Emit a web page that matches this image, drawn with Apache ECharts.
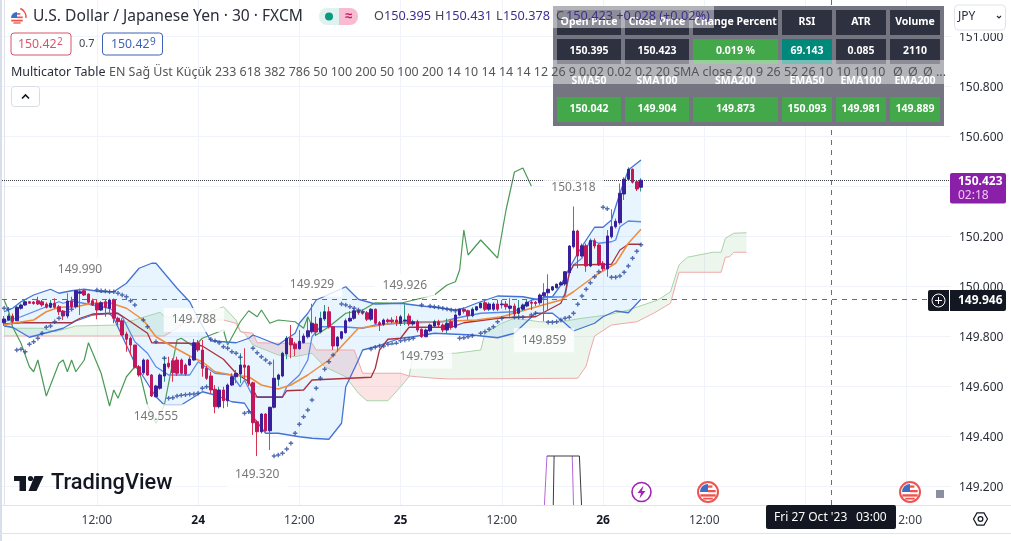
<!DOCTYPE html>
<html>
<head>
<meta charset="utf-8">
<script src="https://cdn.jsdelivr.net/npm/echarts@6/dist/echarts.min.js"></script>
<style>html,body{margin:0;padding:0;background:#fff}#c{width:1011px;height:541px}</style>
</head>
<body>
<div id="c"></div>
<script>
// [open, close, low, high]
const ohlc = [
[149.853,149.868,149.84,149.88],[149.864,149.880,149.86,149.89],[149.880,149.859,149.85,149.89],[149.861,149.915,149.86,149.92],
[149.911,149.924,149.905,149.93],[149.924,149.937,149.92,149.945],[149.937,149.931,149.93,149.94],[149.936,149.930,149.925,149.94],
[149.941,149.928,149.924,149.957],[149.937,149.924,149.917,149.944],[149.928,149.915,149.91,149.935],[149.915,149.931,149.911,149.944],
[149.931,149.915,149.91,149.951],[149.917,149.897,149.884,149.924],[149.900,149.880,149.864,149.904],[149.880,149.940,149.871,149.971],
[149.940,149.917,149.91,149.957],[149.917,149.981,149.91,149.984],[149.971,149.977,149.884,149.990],[149.981,149.964,149.96,149.985],
[149.968,149.935,149.93,149.97],[149.941,149.924,149.92,149.95],[149.931,149.904,149.867,149.944],[149.904,149.933,149.90,149.94],
[149.937,149.915,149.877,149.944],[149.911,149.944,149.884,149.95],[149.944,149.871,149.851,149.95],[149.871,149.857,149.844,149.877],
[149.861,149.804,149.80,149.871],[149.808,149.787,149.737,149.817],[149.791,149.764,149.724,149.797],[149.764,149.675,149.67,149.764],
[149.677,149.644,149.637,149.684],[149.653,149.704,149.645,149.71],[149.704,149.644,149.64,149.707],[149.644,149.560,149.556,149.648],
[149.557,149.600,149.555,149.605],[149.591,149.644,149.585,149.65],[149.640,149.688,149.617,149.715],[149.691,149.677,149.67,149.717],
[149.701,149.653,149.617,149.711],[149.704,149.651,149.64,149.717],[149.704,149.651,149.645,149.71],[149.684,149.648,149.64,149.69],
[149.684,149.707,149.68,149.717],[149.704,149.773,149.70,149.788],[149.773,149.744,149.737,149.784],[149.744,149.671,149.637,149.784],
[149.671,149.631,149.624,149.68],[149.640,149.584,149.571,149.657],[149.587,149.517,149.491,149.604],[149.517,149.584,149.51,149.597],
[149.584,149.541,149.511,149.597],[149.541,149.604,149.517,149.61],[149.604,149.637,149.60,149.651],[149.637,149.651,149.611,149.664],
[149.648,149.684,149.611,149.731],[149.684,149.675,149.631,149.751],[149.680,149.611,149.60,149.684],[149.613,149.453,149.404,149.617],
[149.457,149.417,149.320,149.464],[149.417,149.488,149.41,149.491],[149.488,149.421,149.417,149.491],[149.421,149.515,149.344,149.517],
[149.515,149.631,149.51,149.706],[149.627,149.644,149.60,149.65],[149.640,149.731,149.635,149.737],[149.728,149.791,149.707,149.80],
[149.791,149.764,149.711,149.844],[149.768,149.749,149.72,149.777],[149.749,149.779,149.745,149.824],[149.773,149.800,149.77,149.81],
[149.797,149.821,149.79,149.871],[149.817,149.851,149.81,149.929],[149.848,149.816,149.80,149.877],[149.816,149.871,149.81,149.897],
[149.868,149.897,149.86,149.924],[149.897,149.837,149.83,149.917],[149.837,149.760,149.744,149.84],[149.760,149.795,149.737,149.80],
[149.791,149.817,149.785,149.82],[149.813,149.861,149.81,149.87],[149.860,149.871,149.855,149.90],[149.871,149.901,149.865,149.91],
[149.901,149.893,149.885,149.905],[149.897,149.891,149.885,149.90],[149.893,149.867,149.86,149.90],[149.867,149.907,149.86,149.911],
[149.907,149.851,149.845,149.91],[149.853,149.844,149.82,149.86],[149.847,149.864,149.84,149.87],[149.864,149.857,149.85,149.87],
[149.864,149.857,149.85,149.875],[149.864,149.855,149.84,149.88],[149.851,149.877,149.84,149.885],[149.860,149.864,149.844,149.926],
[149.880,149.848,149.84,149.89],[149.848,149.857,149.84,149.865],[149.857,149.824,149.815,149.865],[149.827,149.797,149.793,149.83],
[149.797,149.824,149.795,149.83],[149.821,149.844,149.815,149.85],[149.840,149.857,149.835,149.865],[149.857,149.844,149.835,149.865],
[149.844,149.824,149.815,149.85],[149.824,149.851,149.81,149.87],[149.857,149.835,149.825,149.865],[149.835,149.884,149.83,149.89],
[149.884,149.907,149.88,149.91],[149.907,149.899,149.89,149.915],[149.901,149.881,149.865,149.905],[149.881,149.907,149.875,149.915],
[149.904,149.917,149.90,149.92],[149.913,149.931,149.91,149.935],[149.933,149.907,149.90,149.94],[149.907,149.928,149.90,149.935],
[149.907,149.928,149.90,149.935],[149.928,149.907,149.90,149.945],[149.925,149.928,149.91,149.944],[149.928,149.917,149.905,149.94],
[149.911,149.920,149.877,149.951],[149.920,149.888,149.88,149.93],[149.891,149.911,149.885,149.944],[149.907,149.924,149.90,149.93],
[149.920,149.935,149.915,149.945],[149.935,149.931,149.904,149.945],[149.935,149.930,149.92,149.94],[149.933,149.964,149.925,149.97],
[149.961,149.973,149.859,150.011],[149.973,149.987,149.904,150.047],[149.984,149.997,149.98,150.0],[149.993,150.007,149.99,150.01],
[150.004,150.013,150.0,150.02],[150.008,150.057,150.0,150.06],[150.053,150.160,150.05,150.164],[150.157,150.220,150.15,150.318],
[150.220,150.120,150.071,150.225],[150.120,150.161,150.115,150.17],[150.161,150.080,150.057,150.17],[150.080,150.181,150.075,150.19],
[150.181,150.160,150.15,150.19],[150.164,150.084,150.08,150.17],[150.091,150.069,150.06,150.10],[150.069,150.200,150.037,150.224],
[150.197,150.237,150.19,150.307],[150.237,150.259,150.23,150.27],[150.253,150.371,150.245,150.41],[150.368,150.427,150.344,150.435],
[150.427,150.467,150.42,150.475],[150.467,150.415,150.41,150.47],[150.417,150.388,150.38,150.42],[150.395,150.423,150.378,150.431]
];
const bbUpper = [[0,149.897],[2,149.911],[4,149.937],[7,149.964],[11,149.987],[13,149.971],[16,149.981],[19,149.987],[23,149.977],[26,149.977],[29,150.011],[32,150.071],[35,150.091],[36,150.091],[38,150.051],[41,149.991],[44,149.937],[46,149.871],[49,149.781],[52,149.777],[55,149.773],[58,149.791],[59,149.804],[61,149.791],[65,149.764],[66,149.777],[69,149.811],[70,149.851],[72,149.891],[74,149.944],[81,149.997],[84,149.947],[88,149.928],[94,149.931],[99,149.920],[102,149.915],[107,149.904],[109,149.911],[112,149.931],[117,149.960],[123,149.957],[127,149.944],[128,149.957],[130,149.957],[132,150.004],[134,150.071],[136,150.131],[138,150.184],[140,150.235],[142,150.235],[144,150.264],[146,150.371],[148,150.464],[151,150.504]];
const bbMiddle = [[0,149.857],[4,149.877],[7,149.897],[10,149.917],[13,149.937],[14,149.931],[16,149.941],[17,149.937],[21,149.924],[25,149.911],[28,149.877],[31,149.777],[34,149.731],[36,149.677],[39,149.644],[44,149.644],[46,149.697],[50,149.651],[54,149.644],[56,149.597],[57,149.624],[59,149.557],[66,149.557],[67,149.597],[70,149.644],[72,149.704],[73,149.797],[75,149.837],[80,149.837],[85,149.831],[88,149.844],[94,149.851],[104,149.857],[107,149.871],[113,149.891],[121,149.897],[125,149.944],[129,149.955],[133,149.957],[134,150.051],[135,150.084],[137,150.111],[139,150.184],[141,150.171],[144,150.177],[145,150.184],[146,150.237],[148,150.260],[151,150.257]];
const bbLower = [[0,149.840],[2,149.835],[6,149.795],[11,149.817],[14,149.831],[17,149.860],[21,149.884],[25,149.891],[26,149.871],[31,149.691],[33,149.637],[36,149.557],[38,149.524],[42,149.524],[47,149.577],[50,149.564],[54,149.537],[57,149.531],[59,149.477],[62,149.411],[65,149.411],[70,149.397],[73,149.391],[77,149.387],[80,149.451],[81,149.597],[84,149.704],[85,149.744],[88,149.757],[94,149.791],[97,149.797],[102,149.811],[111,149.804],[117,149.793],[121,149.811],[126,149.891],[130,149.891],[133,149.851],[135,149.820],[140,149.851],[142,149.877],[145,149.900],[148,149.893],[151,149.947]];
const emaLine = [[0,149.844],[2,149.851],[7,149.864],[10,149.897],[13,149.915],[17,149.917],[21,149.931],[25,149.933],[29,149.911],[33,149.864],[36,149.797],[40,149.757],[45,149.711],[47,149.697],[50,149.657],[54,149.644],[58,149.637],[61,149.604],[65,149.588],[68,149.604],[72,149.644],[77,149.704],[81,149.777],[84,149.831],[88,149.840],[94,149.857],[102,149.857],[112,149.864],[118,149.877],[125,149.911],[132,149.944],[135,149.977],[140,150.040],[145,150.091],[148,150.171],[151,150.227]];
const kijunLine = [[0,149.848],[4,149.853],[16,149.853],[18,149.871],[21,149.888],[27,149.891],[30,149.857],[34,149.811],[35,149.773],[44,149.771],[47,149.760],[52,149.707],[55,149.651],[58,149.617],[60,149.555],[66,149.555],[67,149.581],[71,149.584],[73,149.624],[87,149.635],[88,149.671],[89,149.744],[91,149.787],[94,149.791],[96,149.835],[106,149.835],[109,149.853],[118,149.873],[126,149.877],[132,149.931],[133,149.971],[134,150.051],[135,150.084],[144,150.087],[146,150.144],[148,150.167],[151,150.167]];
const chikouLine = [[0,149.944],[1,149.904],[2,149.837],[4,149.771],[6,149.677],[7,149.657],[8,149.704],[10,149.560],[13,149.691],[14,149.704],[15,149.657],[16,149.704],[17,149.657],[19,149.704],[20,149.773],[23,149.651],[25,149.520],[26,149.584],[27,149.551],[29,149.637],[31,149.677],[32,149.664],[34,149.524],[36,149.451],[38,149.524],[39,149.611],[41,149.784],[42,149.791],[45,149.757],[47,149.791],[52,149.824],[53,149.764],[56,149.857],[58,149.901],[60,149.877],[61,149.904],[63,149.851],[65,149.864],[69,149.857],[71,149.831],[72,149.877],[74,149.804],[77,149.837],[81,149.891],[85,149.904],[88,149.933],[94,149.931],[102,149.964],[105,150.004],[107,150.017],[108,150.064],[109,150.224],[110,150.124],[113,150.184],[117,150.112],[119,150.304],[121,150.456],[123,150.472],[125,150.400]];
const senkouA = [[0,149.844],[2,149.831],[9,149.831],[12,149.817],[17,149.840],[27,149.844],[33,149.875],[37,149.895],[38,149.877],[45,149.87],[52,149.917],[55,149.864],[56,149.82],[57,149.811],[59,149.764],[65,149.724],[69,149.717],[73,149.731],[76,149.677],[81,149.637],[84,149.571],[86,149.541],[91,149.541],[94,149.597],[96,149.637],[97,149.731],[107,149.731],[113,149.744],[114,149.811],[118,149.851],[121,149.871],[127,149.857],[132,149.857],[137,149.871],[143,149.884],[148,149.904],[155,149.944],[158,149.977],[160,150.084],[162,150.115],[168,150.135],[170,150.135],[171,150.191],[173,150.211],[176,150.213]];
const senkouB = [[0,149.800],[38,149.800],[44,149.864],[52,149.864],[55,149.851],[56,149.817],[59,149.811],[60,149.773],[66,149.771],[73,149.771],[74,149.744],[83,149.744],[85,149.651],[94,149.651],[96,149.640],[102,149.631],[106,149.628],[136,149.631],[138,149.680],[139,149.744],[140,149.80],[144,149.844],[150,149.857],[154,149.891],[158,149.931],[160,150.055],[170,150.055],[171,150.115],[172,150.117],[173,150.135],[176,150.135]];
const sarPoints = [[0,149.911],[1,149.907],[3,149.744],[4,149.747],[5,149.737],[6,149.767],[7,149.777],[8,149.791],[9,149.811],[10,149.835],[11,149.840],[12,149.857],[13,149.871],[14,149.888],[15,149.897],[16,149.907],[22,149.984],[23,149.981],[24,149.980],[25,149.977],[26,149.977],[27,149.971],[28,149.964],[29,149.957],[30,149.941],[31,149.924],[33,149.864],[34,149.837],[36,149.777],[38,149.711],[39,149.551],[40,149.553],[41,149.560],[42,149.563],[43,149.565],[44,149.567],[45,149.568],[46,149.571],[47,149.591],[48,149.597],[49,149.787],[50,149.781],[51,149.773],[52,149.757],[53,149.751],[54,149.737],[55,149.731],[56,149.715],[57,149.491],[58,149.497],[59,149.751],[60,149.733],[61,149.717],[62,149.704],[63,149.691],[64,149.320],[65,149.324],[66,149.331],[67,149.348],[68,149.371],[69,149.411],[70,149.447],[71,149.477],[72,149.504],[73,149.544],[74,149.591],[75,149.631],[76,149.667],[77,149.697],[78,149.724],[80,149.928],[81,149.924],[82,149.917],[83,149.911],[84,149.904],[85,149.897],[87,149.748],[88,149.755],[89,149.760],[90,149.760],[91,149.767],[92,149.768],[93,149.771],[94,149.781],[95,149.784],[96,149.787],[97,149.791],[99,149.924],[101,149.920],[102,149.917],[103,149.915],[104,149.911],[105,149.908],[106,149.904],[107,149.901],[108,149.791],[109,149.793],[110,149.797],[111,149.801],[113,149.811],[114,149.817],[115,149.827],[116,149.837],[117,149.857],[118,149.871],[121,149.875],[122,149.875],[123,149.875],[125,149.884],[126,149.891],[129,149.855],[130,149.855],[131,149.857],[132,149.864],[133,149.871],[134,149.875],[135,149.891],[136,149.927],[137,149.960],[138,149.987],[139,150.013],[140,150.037],[141,150.057],[142,150.315],[143,150.309],[144,150.035],[145,150.035],[146,150.040],[147,150.055],[148,150.080],[149,150.111],[150,150.139],[151,150.165]];
const pivotHighs = [[18,149.990],[45,149.788],[73,149.929],[95,149.926],[135,150.318]];
const pivotLows = [[36,149.555],[60,149.320],[99,149.793],[128,149.859]];
const boxPurple = [[[128.1,149.124],[128.7,149.320]],[[134.7,149.320],[135.0,149.124]]];
const boxDark = [[[128.7,149.320],[136.4,149.320],[136.9,149.124]],[[130.4,149.320],[130.2,149.124]]];
const priceTicks = [149.2,149.4,149.6,149.8,150.0,150.2,150.4,150.6,150.8,151.0];
const tickIndex = [22,46,70,94,118,142,166,190,214];
const tickLabels = ['12:00','24','12:00','25','12:00','26','12:00','27','12:00'];
const lastPrice = 150.423, crossPrice = 149.946, crossIndex = 196;
const tableHead1 = ['Open Price','Close Price','Change Percent','RSI','ATR','Volume'];
const tableVal1 = ['150.395','150.423','0.019 %','69.143','0.085','2110'];
const tableHead2 = ['SMA50','SMA100','SMA200','EMA50','EMA100','EMA200'];
const tableVal2 = ['150.042','149.904','149.873','150.093','149.981','149.889'];

const barCount = 225;
const categories = [];
for (let i = 0; i < barCount; i++) {
  const m = 60 + i * 30, d = 23 + Math.floor(m / 1440), mm = m % 1440;
  categories.push(d + ' ' + String(Math.floor(mm / 60)).padStart(2, '0') + ':' + String(mm % 60).padStart(2, '0'));
}
const F = '"Noto Sans", sans-serif';
const wicks = ohlc;
const bodies = ohlc.map(b => [b[0], b[1], Math.min(b[0], b[1]), Math.max(b[0], b[1])]);

function line(name, data, color, width, z, xi) {
  return {name, type: 'line', data, xAxisIndex: xi || 0, showSymbol: false, symbol: 'none', silent: true,
    lineStyle: {color, width: width || 1}, z: z || 3, animation: false};
}
function poly(name, hi, lo, from, to, fill) {
  const a = hi.filter(p => p[0] >= from && p[0] <= to);
  const b = lo.filter(p => p[0] >= from && p[0] <= to).reverse();
  const pts = a.concat(b);
  return {name, type: 'custom', data: [[0, 150]], z: 1, silent: true, animation: false,
    renderItem: (params, api) => ({type: 'polygon', shape: {points: pts.map(p => api.coord(p))}, style: {fill}})};
}
function pivot(name, data, pos) {
  return {name, type: 'scatter', data, symbolSize: 0, silent: true, z: 6, animation: false,
    label: {show: true, position: pos, distance: 7, formatter: p => p.value[1].toFixed(3), color: '#555', fontFamily: F, fontSize: 12,
      backgroundColor: '#fff', padding: [6, 8]}};
}

// overlays
const g = [];
const Z = 100;
const rect = (x, y, w, h, fill, extra) => g.push(Object.assign({type: 'rect', shape: {x, y, width: w, height: h, r: (extra && extra.r) || 0}, style: Object.assign({fill}, (extra && extra.style) || {}), z: (extra && extra.z) || Z, silent: true}));
const text = (x, y, t, fill, size, o) => g.push({type: 'text', z: (o && o.z) || Z + 3, silent: true, style: {x, y, text: t, fill, font: ((o && o.weight) || 'normal') + ' ' + size + 'px ' + ((o && o.family) || F), align: (o && o.align) || 'left', verticalAlign: 'middle'}});
const circle = (cx, cy, r, fill, stroke, lw) => g.push({type: 'circle', z: Z, silent: true, shape: {cx, cy, r}, style: {fill: fill || 'none', stroke: stroke || 'none', lineWidth: lw || 1}});
const polygon = (points, fill) => g.push({type: 'polygon', z: Z, silent: true, shape: {points}, style: {fill}});

function flag(cx, cy, r, ring) {
  if (ring) { circle(cx, cy, r, '#fff', '#ef5350', 2); }
  const q = ring ? r - 2 : r;
  circle(cx, cy, q, '#fff');
  g.push({type: 'sector', z: Z, silent: true, shape: {cx, cy, r: q, r0: 0, startAngle: Math.PI, endAngle: Math.PI * 1.5}, style: {fill: '#3f6fc4'}});
  rect(cx, cy - q * 0.82, q * 0.55, q * 0.28, '#ef5350');
  rect(cx, cy - q * 0.25, q * 0.96, q * 0.28, '#ef5350');
  rect(cx - q * 0.96, cy + q * 0.28, q * 1.92, q * 0.3, '#ef5350');
  rect(cx - q * 0.6, cy + q * 0.72, q * 1.2, q * 0.22, '#ef5350');
}
rect(0, 0, 2, 541, '#d9deeb');
// panels
rect(951, 506, 60, 27, '#fff');
rect(951.5, 0, 59.5, 33, '#fff');
// header
flag(17, 18, 6, false);
g.push({type: 'arc', z: Z, silent: true, shape: {cx: 17, cy: 17, r: 9, startAngle: -1.2, endAngle: 0.1}, style: {stroke: '#ef5350', lineWidth: 1.6, fill: 'none'}});
text(33, 16.5, 'U.S. Dollar / Japanese Yen · 30 · FXCM', '#2a2e39', 15.6);
rect(319, 8, 22, 17, '#e0f2ef', {r: [8, 0, 0, 8]});
circle(329, 16.5, 4, '#089981');
rect(339, 8, 19, 17, '#f8bbd0', {r: [0, 8, 8, 0]});
text(348.5, 16.5, '≈', '#c2185b', 13, {align: 'center', weight: 'bold'});
const ohlcCol = '#3f2e8f', lab = '#434651';
[[374, 'O', '150.395'], [435, 'H', '150.431'], [496, 'L', '150.378'], [556, 'C', '150.423 +0.028 (+0.02%)']].forEach(a => {
  text(a[0], 16.5, a[1], lab, 12.7);
  text(a[0] + (a[1] === 'H' ? 10 : a[1] === 'L' ? 7 : 10), 16.5, a[2], ohlcCol, 12.7);
});
// bid/ask
g.push({type: 'rect', z: Z, silent: true, shape: {x: 11, y: 33, width: 60, height: 22, r: 3}, style: {fill: '#fff', stroke: '#d9546a', lineWidth: 1}});
text(18, 44.5, '150.42', '#d9546a', 12.3);
text(57, 42, '2', '#d9546a', 10);
text(79, 44, '0.7', '#434651', 11);
g.push({type: 'rect', z: Z, silent: true, shape: {x: 102.5, y: 33, width: 60, height: 22, r: 3}, style: {fill: '#fff', stroke: '#3f62b5', lineWidth: 1}});
text(111, 44.5, '150.42', '#3f62b5', 12.3);
text(150, 42, '9', '#3f62b5', 10);
// legend row
text(11, 72, 'Multicator Table', '#2a2e39', 12.5);
text(109, 72, 'EN Sağ Üst Küçük 233 618 382 786 50 100 200 50 100 200 14 10 14 14 14 12 26 9 0.02 0.02 0.2 20 SMA close 2 0 9 26 52 26 10 10 10 10', '#555', 12.45);
[[898, 'Ø'], [913, 'Ø'], [928, 'Ø'], [941, '...']].forEach(a => text(a[0], 72, a[1], '#555', 12.5, {align: 'center'}));
g.push({type: 'rect', z: Z, silent: true, shape: {x: 11.5, y: 86.5, width: 28, height: 20, r: 3}, style: {fill: '#fff', stroke: '#d9dce3', lineWidth: 1}});
g.push({type: 'polyline', z: Z, silent: true, shape: {points: [[22, 98.5], [25.5, 95], [29, 98.5]]}, style: {stroke: '#131722', lineWidth: 1.6, fill: 'none'}});
// table
const colX = [557, 625, 693, 782, 836, 890], colW = [64, 64, 85, 50, 50, 50];
rect(553, 6, 391, 120, '#757581', {z: Z + 1});
const cellFont = {z: Z + 2, weight: 'bold', align: 'center'};
colX.forEach((x, i) => {
  rect(x, 10, colW[i], 25, '#2e3140', {z: Z + 1});
  text(x + colW[i] / 2, 22.5, tableHead1[i], '#fff', 10.5, cellFont);
  const fill = i === 2 ? '#43a84a' : i === 3 ? '#00897b' : '#2e3140';
  rect(x, 39, colW[i], 25, fill, {z: Z + 1});
  text(x + colW[i] / 2, 51.5, tableVal1[i], '#fff', 10.5, cellFont);
  text(x + colW[i] / 2, 81, tableHead2[i], '#fff', 10.5, cellFont);
  rect(x, 97, colW[i], 25, '#43a84a', {z: Z + 1});
  text(x + colW[i] / 2, 109.5, tableVal2[i], '#fff', 10.5, cellFont);
});
rect(553, 6, 161, 22, 'rgba(255,255,255,0.45)', {z: Z + 2});
rect(553, 60, 393, 24, 'rgba(255,255,255,0.45)', {z: Z + 2});
// JPY
g.push({type: 'rect', z: Z, silent: true, shape: {x: 954.5, y: 5, width: 51, height: 25, r: 4}, style: {fill: '#fff', stroke: '#e0e3eb', lineWidth: 1}});
text(958, 17, 'JPY', '#2a2e39', 12);
g.push({type: 'polyline', z: Z, silent: true, shape: {points: [[997, 16], [999, 18], [1001, 16]]}, style: {stroke: '#2a2e39', lineWidth: 1.2, fill: 'none'}});
// price tags
rect(950, 173, 56, 30.5, '#8a1fa8', {r: 2});
text(958, 182, '150.423', '#fff', 12, {weight: 'bold'});
text(958, 196, '02:18', '#efc6f5', 12);
rect(928, 290, 78, 21, '#131722', {r: 2});
rect(949, 290, 1, 21, '#fff');
g.push({type: 'circle', z: Z + 1, silent: true, shape: {cx: 938.5, cy: 300.5, r: 6.5}, style: {fill: 'none', stroke: '#fff', lineWidth: 1}});
g.push({type: 'polyline', z: Z + 1, silent: true, shape: {points: [[938.5, 297], [938.5, 304]]}, style: {stroke: '#fff', lineWidth: 1, fill: 'none'}});
g.push({type: 'polyline', z: Z + 1, silent: true, shape: {points: [[935, 300.5], [942, 300.5]]}, style: {stroke: '#fff', lineWidth: 1, fill: 'none'}});
text(958, 300.5, '149.946', '#fff', 12, {weight: 'bold'});
// date tag
rect(766, 505, 130, 24, '#131722', {r: 2});
text(774, 518, "Fri 27 Oct '23", '#fff', 12);
text(856, 518, '03:00', '#fff', 12);
// icons
circle(641.5, 492, 9.5, '#fff', '#9c27b0', 1.6);
polygon([[643.5, 485.5], [637.5, 493], [641, 493], [639.5, 498.5], [645.5, 491], [642, 491]], '#9c27b0');
flag(708, 492, 10, true);
flag(910, 492, 10, true);
rect(936, 490, 8, 8, '#8c8f9c');
// logo
polygon([[14, 476], [26, 476], [26, 491], [19.5, 491], [19.5, 481], [14, 481]], '#131722');
circle(30.5, 478.5, 2.6, '#131722');
polygon([[34.5, 476], [43.5, 476], [36.5, 491], [28.5, 491]], '#131722');
text(51, 484, 'TradingView', '#131722', 21.8, {weight: '500', family: 'Roboto, sans-serif'});
// settings
const hex = [];
for (let k = 0; k < 6; k++) hex.push([980.5 + 7 * Math.cos(k * Math.PI / 3), 519 + 7 * Math.sin(k * Math.PI / 3)]);
g.push({type: 'polygon', z: Z, silent: true, shape: {points: hex}, style: {fill: 'none', stroke: '#131722', lineWidth: 1.2}});
circle(980.5, 519, 2.4, 'none', '#131722', 1.2);
rect(951, 533, 60, 1, '#e0e3eb');
rect(0, 533, 951, 1, '#e0e3eb');
rect(951, 505, 60, 1, '#e0e3eb');

const option = {
  animation: false,
  backgroundColor: '#fff',
  textStyle: {fontFamily: F},
  grid: {left: 2, right: 60, top: 0, bottom: 36, containLabel: false},
  xAxis: [{
    type: 'category', data: categories, boundaryGap: true,
    axisLine: {show: true, lineStyle: {color: '#e0e3eb'}}, axisTick: {show: false},
    axisLabel: {
      interval: i => tickIndex.includes(i), margin: 10, fontSize: 12, fontFamily: F, color: '#3a3e49',
      formatter: (v, i) => {
        const t = tickLabels[tickIndex.indexOf(i)];
        return t === undefined ? '' : (t.includes(':') ? t : '{b|' + t + '}');
      },
      rich: {b: {fontWeight: 'bold', fontSize: 12, color: '#131722', fontFamily: F}}
    },
    splitLine: {show: true, interval: i => tickIndex.includes(i), alignWithLabel: true, lineStyle: {color: '#f0f3fa', width: 1}}
  }, {
    type: 'value', min: -0.5, max: barCount - 0.5, show: false, splitLine: {show: false}
  }],
  yAxis: {
    type: 'value', position: 'right', min: 149.124, max: 151.144, scale: true,
    axisLine: {show: true, lineStyle: {color: '#e0e3eb'}}, axisTick: {show: false, customValues: priceTicks},
    axisLabel: {customValues: priceTicks, formatter: v => '{p|' + v.toFixed(3) + '}', margin: 8,
      rich: {p: {color: '#2a2e39', fontSize: 12, fontFamily: F, padding: [4, 0, 0, 0]}}},
    splitLine: {show: true, lineStyle: {color: '#f0f3fa', width: 1}}
  },
  graphic: {elements: g},
  series: [
    poly('cloudBull1', senkouA, senkouB, 0, 56, 'rgba(120,190,125,0.16)'),
    poly('cloudBear', senkouB, senkouA, 56, 96, 'rgba(239,120,120,0.2)'),
    poly('cloudBull2', senkouA, senkouB, 96, 176, 'rgba(120,190,125,0.14)'),
    poly('bbFill', bbUpper, bbLower, 0, 151, 'rgba(33,150,243,0.1)'),
    line('senkouA', senkouA, '#a9d3ab', 1, 2),
    line('senkouB', senkouB, '#efa9a9', 1, 2),
    line('chikou', chikouLine, '#4b9a55', 1.2, 3),
    line('bbUpper', bbUpper, '#4472d6', 1.3, 3),
    line('bbLower', bbLower, '#4472d6', 1.3, 3),
    line('bbMiddle', bbMiddle, '#5c8ae6', 1.3, 3),
    line('kijun', kijunLine, '#a8323f', 1.3, 3),
    line('ema', emaLine, '#ef8d3c', 1.5, 3),
    line('boxPurple1', boxPurple[0], '#b567d3', 1, 3, 1),
    line('boxPurple2', boxPurple[1], '#b567d3', 1, 3, 1),
    line('boxDark1', boxDark[0], '#3a3a44', 1, 3, 1),
    line('boxDark2', boxDark[1], '#3a3a44', 1, 3, 1),
    {name: 'wicks', type: 'candlestick', data: wicks, barWidth: 1, z: 4, silent: true, animation: false,
      itemStyle: {color: '#2e9486', color0: '#d8344f', borderColor: '#2e9486', borderColor0: '#d8344f', borderWidth: 1}},
    {name: 'bodies', type: 'candlestick', data: bodies, barWidth: 3, z: 5, silent: true, animation: false,
      itemStyle: {color: '#3a1f9b', color0: '#c2185b', borderColor: '#3a1f9b', borderColor0: '#c2185b', borderWidth: 1},
      markLine: {silent: true, symbol: 'none', precision: 5, label: {show: false}, animation: false, data: [
        {yAxis: lastPrice, lineStyle: {color: '#3a3e49', type: 'dotted', width: 1}},
        {yAxis: crossPrice, lineStyle: {color: '#6a6d78', type: [5, 5], width: 1}},
        {xAxis: crossIndex, lineStyle: {color: '#6a6d78', type: [5, 5], width: 1}}
      ]}},
    {name: 'sar', type: 'scatter', data: sarPoints, symbol: 'path://M3.5 0h3v3.5H10v3H6.5V10h-3V6.5H0v-3h3.5z', symbolSize: 4.5, silent: true, z: 5,
      itemStyle: {color: '#2a4a9c'}, animation: false},
    pivot('pivotHighs', pivotHighs, 'top'),
    pivot('pivotLows', pivotLows, 'bottom')
  ]
};
echarts.init(document.getElementById('c'), null, {renderer: 'canvas'}).setOption(option);
</script>
</body>
</html>
